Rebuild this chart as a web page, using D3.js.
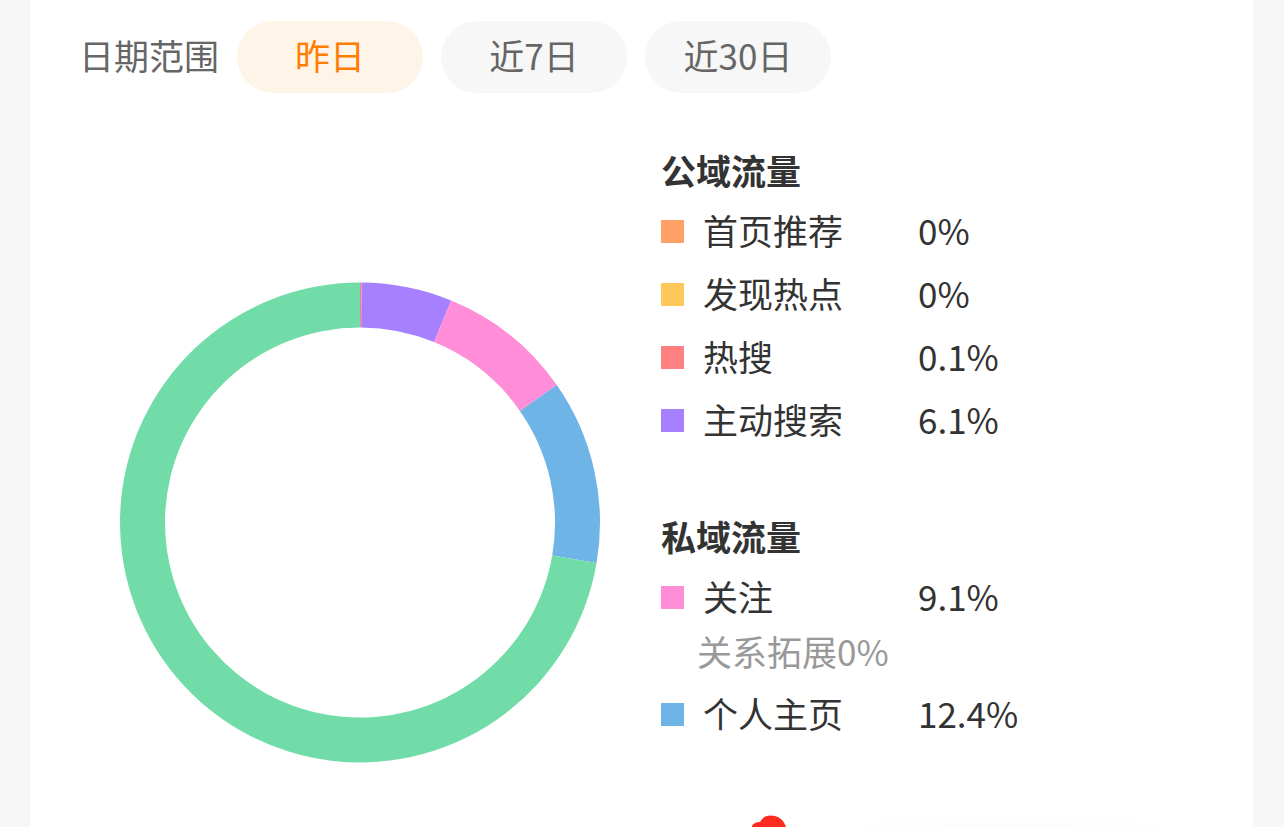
<!DOCTYPE html>
<html><head><meta charset="utf-8">
<script src="https://cdn.jsdelivr.net/npm/d3@7"></script>
<style>
html,body{margin:0;padding:0;background:#f7f7f7;overflow:hidden;}
svg{display:block;font-family:"Noto Sans CJK SC","Noto Sans",sans-serif;}
</style></head>
<body>
<svg id="c" width="1284" height="827"></svg>
<script>
// ---- data ----
const rangeLabels = ["昨日", "近7日", "近30日"];
const activeRange = 0;
const publicNames = ["首页推荐", "发现热点", "热搜", "主动搜索"];
const publicValues = [0, 0, 0.1, 6.1];
const publicColors = ["#FFA066", "#FFC85A", "#FF8080", "#A680FF"];
const privateNames = ["关注", "个人主页"];
const privateValues = [9.1, 12.4];
const privateColors = ["#FF8DD8", "#6EB4E6"];
const relationLabel = "关系拓展";
const relationValue = 0;
const otherValue = 72.3;
const otherColor = "#71DCA8";
const valueLabels = ["0%", "0%", "0.1%", "6.1%", "9.1%", "12.4%"];

const FS = 35;
const svg = d3.select("#c");
// card
svg.append("rect").attr("x",30).attr("y",0).attr("width",1223).attr("height",827).attr("fill","#fff");

// bottom decorative glow
const defs = svg.append("defs");
const g1 = defs.append("radialGradient").attr("id","glow").attr("cx","50%").attr("cy","100%").attr("r","70%");
g1.append("stop").attr("offset","0%").attr("stop-color","#fbe0d8").attr("stop-opacity",0.9);
g1.append("stop").attr("offset","100%").attr("stop-color","#ffffff").attr("stop-opacity",0);
svg.append("rect").attr("x",770).attr("y",795).attr("width",480).attr("height",60).attr("rx",30).attr("fill","url(#glow)");
svg.append("path").attr("d","M752,827 L752,826 Q754,822 760,822 Q764,814 775,816 Q783,818 786,827 Z").attr("fill","#ff2a1e");

// date range row
svg.append("text").attr("x",79).attr("y",70).attr("font-size",FS).attr("fill","#666").text("日期范围");
const px = d3.scaleOrdinal().domain(rangeLabels).range([237,441,645]);
const pills = svg.selectAll("g.pill").data(rangeLabels).join("g").attr("class","pill")
  .attr("transform", d => `translate(${px(d)},21)`);
pills.append("rect").attr("width",186).attr("height",72).attr("rx",36)
  .attr("fill",(d,i)=> i===activeRange ? "#FFF4E8" : "#F7F7F7");
pills.append("text").attr("x",93).attr("y",49).attr("text-anchor","middle").attr("font-size",FS)
  .attr("fill",(d,i)=> i===activeRange ? "#FF7D00" : "#666").text(d=>d);

// donut
const slices = [
  {v: publicValues[0], c: publicColors[0]},
  {v: publicValues[1], c: publicColors[1]},
  {v: publicValues[2], c: publicColors[2]},
  {v: publicValues[3], c: publicColors[3]},
  {v: privateValues[0], c: privateColors[0]},
  {v: relationValue, c: "#cccccc"},
  {v: privateValues[1], c: privateColors[1]},
  {v: otherValue, c: otherColor}
];
const pie = d3.pie().sort(null).value(d=>d.v);
const arc = d3.arc().innerRadius(195).outerRadius(240);
svg.append("g").attr("transform","translate(360,522.5)")
  .selectAll("path").data(pie(slices)).join("path")
  .attr("d",arc).attr("fill",d=>d.data.c);

// legend
const lx = 661, vx = 918, rowH = 63;
svg.append("text").attr("x",lx).attr("y",185).attr("font-size",FS).attr("font-weight",700).attr("fill","#333").text("公域流量");
const pubRows = publicNames.map((n,i)=>({n, c: publicColors[i], l: valueLabels[i], y: 233 + i*rowH}));
const privRows = privateNames.map((n,i)=>({n, c: privateColors[i], l: valueLabels[4+i], y: [599,716][i]}));
function rows(data){
  const g = svg.append("g").selectAll("g").data(data).join("g");
  g.append("rect").attr("x",lx).attr("y",d=>d.y-13).attr("width",23).attr("height",23).attr("fill",d=>d.c);
  g.append("text").attr("x",703).attr("y",d=>d.y+12).attr("font-size",FS).attr("fill","#333").text(d=>d.n);
  g.append("text").attr("x",vx).attr("y",d=>d.y+12).attr("font-size",FS).attr("fill","#333").text(d=>d.l);
}
rows(pubRows);
svg.append("text").attr("x",lx).attr("y",551).attr("font-size",FS).attr("font-weight",700).attr("fill","#333").text("私域流量");
rows(privRows);
svg.append("text").attr("x",697).attr("y",666).attr("font-size",FS).attr("fill","#999").text(relationLabel + relationValue + "%");
</script>
</body></html>
